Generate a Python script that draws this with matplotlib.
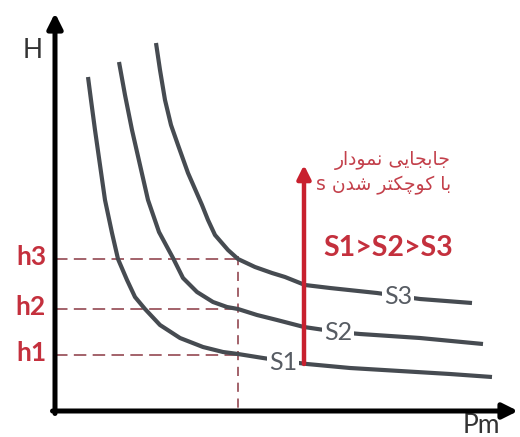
import matplotlib
matplotlib.use("Agg")
import matplotlib.pyplot as plt

# ---------------- data (arbitrary units: Pm on x, H on y) ----------------
s1_x = [3.3, 3.6, 4.0, 4.5, 5.0, 5.7, 6.3, 7.2, 8.0, 9.0, 10.5, 12.5, 14.8, 16.8,
        18.3, 20.8, 22.8, 25.2, 29.5, 34.5, 39.5, 43.7]
s1_y = [33.4, 31.1, 28.1, 24.6, 21.1, 17.8, 15.2, 13.1, 11.4, 10.2, 8.6, 7.3, 6.4, 5.9,
        5.7, 5.3, 5.0, 4.7, 4.3, 4.0, 3.7, 3.4]

s2_x = [6.4, 7.0, 7.7, 8.5, 9.3, 10.4, 11.8, 12.8, 14.2, 15.8, 17.2, 18.3, 20.2, 22.2,
        24.9, 28.3, 30.5, 36.5, 42.8]
s2_y = [34.9, 31.6, 28.1, 24.6, 21.1, 17.9, 15.3, 13.3, 11.9, 10.9, 10.4, 10.2, 9.6, 9.1,
        8.4, 7.9, 7.7, 7.3, 6.7]

s3_x = [10.1, 10.5, 11.0, 11.6, 12.3, 13.3, 14.7, 15.3, 16.0, 17.3, 18.3, 20.0, 21.7,
        23.0, 25.0, 27.5, 32.2, 34.3, 36.5, 41.7]
s3_y = [36.8, 34.1, 31.1, 28.6, 26.6, 23.8, 20.6, 19.1, 17.6, 16.1, 15.2, 14.4, 13.8,
        13.4, 12.6, 12.3, 11.8, 11.5, 11.2, 10.8]

curve_names = ["S1", "S2", "S3"]
label_pos = [(22.8, 4.8), (28.3, 7.9), (34.3, 11.5)]

h_levels = [5.6, 10.2, 15.2]
h_labels = ["h1", "h2", "h3"]
pm_ref = 18.3

arrow_x = 24.9
arrow_from = 4.7
arrow_to = 24.6

note_lines = ["جابجایی نمودار", "با کوچکتر شدن s"]
order_text = "S1>S2>S3"
x_label = "Pm"
y_label = "H"

# ---------------- minimal Persian shaping for display ----------------
FORMS = {
    'ا': ('\ufe8d', '\ufe8e', None, None),
    'ب': ('\ufe8f', '\ufe90', '\ufe91', '\ufe92'),
    'ت': ('\ufe95', '\ufe96', '\ufe97', '\ufe98'),
    'ج': ('\ufe9d', '\ufe9e', '\ufe9f', '\ufea0'),
    'چ': ('\ufb7a', '\ufb7b', '\ufb7c', '\ufb7d'),
    'د': ('\ufea9', '\ufeaa', None, None),
    'ر': ('\ufead', '\ufeae', None, None),
    'ش': ('\ufeb5', '\ufeb6', '\ufeb7', '\ufeb8'),
    'ک': ('\ufb8e', '\ufb8f', '\ufb90', '\ufb91'),
    'م': ('\ufee1', '\ufee2', '\ufee3', '\ufee4'),
    'ن': ('\ufee5', '\ufee6', '\ufee7', '\ufee8'),
    'و': ('\ufeed', '\ufeee', None, None),
    'ی': ('\ufbfc', '\ufbfd', '\ufbfe', '\ufbff'),
}


def shape_word(w):
    out = []
    for i, c in enumerate(w):
        if c not in FORMS:
            out.append(c)
            continue
        prev = w[i - 1] if i > 0 else None
        nxt = w[i + 1] if i + 1 < len(w) else None
        jp = prev in FORMS and FORMS[prev][2] is not None
        jn = FORMS[c][2] is not None and nxt in FORMS
        f = FORMS[c]
        if jp and jn:
            out.append(f[3])
        elif jp:
            out.append(f[1])
        elif jn:
            out.append(f[2])
        else:
            out.append(f[0])
    return "".join(out)


def visual_rtl(line):
    toks = line.split(" ")
    res = []
    for t in reversed(toks):
        if any(ch in FORMS for ch in t):
            res.append(shape_word(t)[::-1])
        else:
            res.append(t)
    return " ".join(res)


# ---------------- drawing ----------------
curve_col = "#464b51"
red_text = "#c3404b"
red_bold = "#c4303d"
red_arrow = "#c8202e"
dash_col = "#944852"

fig = plt.figure(figsize=(5.2, 4.37), dpi=100)
ax = fig.add_axes([0, 0, 1, 1])
ax.set_xlim(-5.5, 46.5)
ax.set_ylim(-2.6, 41.1)
ax.axis("off")

# dashed guides
for h in h_levels:
    ax.plot([0, pm_ref], [h, h], color=dash_col, lw=1.2,
            linestyle=(0, (7.5, 3.8)), zorder=1)
ax.plot([pm_ref, pm_ref], [max(h_levels) + 0.3, 0], color=dash_col, lw=1.2,
        linestyle=(0, (5.5, 4.0)), zorder=1)

# curves
for xs, ys in [(s1_x, s1_y), (s2_x, s2_y), (s3_x, s3_y)]:
    ax.plot(xs, ys, color=curve_col, lw=3.0, solid_capstyle="butt",
            solid_joinstyle="round", zorder=2)

for name, (lx, ly) in zip(curve_names, label_pos):
    ax.text(lx, ly, name, fontsize=18, family="Lato", color="#575c63",
            ha="center", va="center", zorder=3,
            bbox=dict(fc="white", ec="none", pad=1.5))

# axes with arrows
ax.annotate("", xy=(0, 39.8), xytext=(0, -0.25),
            arrowprops=dict(arrowstyle="-|>,head_length=0.9,head_width=0.45",
                            lw=3.6, color="black", shrinkA=0, shrinkB=0),
            zorder=5)
ax.annotate("", xy=(46.3, 0), xytext=(-0.25, 0),
            arrowprops=dict(arrowstyle="-|>,head_length=0.9,head_width=0.45",
                            lw=3.6, color="black", shrinkA=0, shrinkB=0),
            zorder=5)

ax.text(-2.2, 36.1, y_label, fontsize=19, family="Lato", color="#333333",
        ha="center", va="center")
ax.text(42.6, -0.2, x_label, fontsize=19, family="Lato", color="#333333",
        ha="center", va="top")

# h labels
for h, lab in zip(h_levels, h_labels):
    ax.text(-0.9, h - 0.6, lab, fontsize=19, family="Lato", weight="bold",
            color=red_bold, ha="right", va="baseline")

# red arrow
ax.annotate("", xy=(arrow_x, arrow_to), xytext=(arrow_x, arrow_from),
            arrowprops=dict(arrowstyle="-|>,head_length=0.8,head_width=0.4",
                            lw=3.2, color=red_arrow, shrinkA=0, shrinkB=0),
            zorder=4)

# notes
ax.text(39.6, 25.0, visual_rtl(note_lines[0]), fontsize=13.5,
        family=["DejaVu Sans"], color=red_text, ha="right", va="center")
ax.text(39.6, 22.6, visual_rtl(note_lines[1]), fontsize=13.5,
        family=["DejaVu Sans"], color=red_text, ha="right", va="center")
ax.text(26.8, 16.3, order_text, fontsize=20.5, family="Lato", weight="bold",
        color=red_bold, ha="left", va="center")

fig.savefig("out.png", dpi=100)
